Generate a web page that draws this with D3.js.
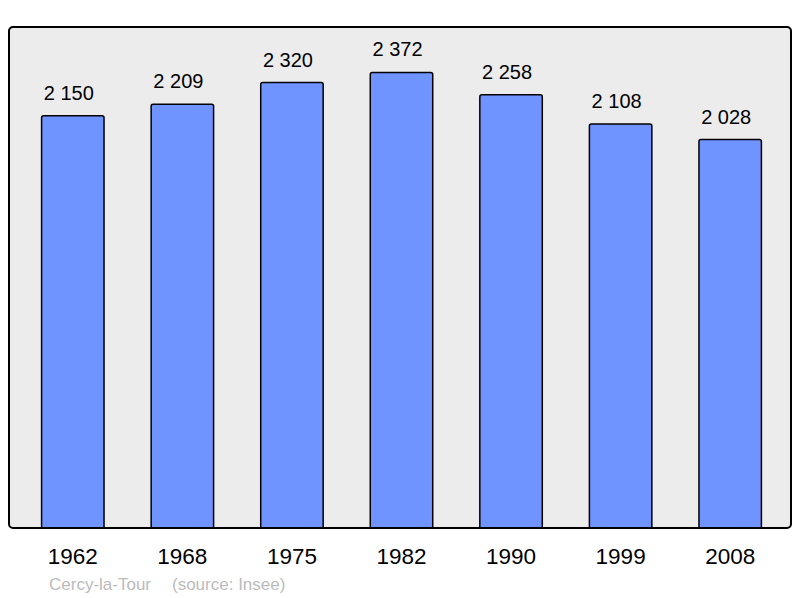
<!DOCTYPE html>
<html>
<head>
<meta charset="utf-8">
<script src="https://cdn.jsdelivr.net/npm/d3@7"></script>
<style>
  body { margin: 0; background: #fff; }
  text { font-family: "Liberation Sans", Arial, sans-serif; }
</style>
</head>
<body>
<svg id="svg" width="800" height="598"></svg>
<script>
// 年と人口
const years = ["1962", "1968", "1975", "1982", "1990", "1999", "2008"];
const population = [2150, 2209, 2320, 2372, 2258, 2108, 2028];
const valueLabels = ["2 150", "2 209", "2 320", "2 372", "2 258", "2 108", "2 028"];
const commune = "Cercy-la-Tour";
const source = "(source: Insee)";

const svg = d3.select("#svg");

// 枠の位置
const frame = { left: 9, top: 27, right: 791, bottom: 528 };

const x = d3.scaleBand()
  .domain(years)
  .range([12, 791])
  .paddingInner(0.43)
  .paddingOuter(0.27);

const y = d3.scaleLinear()
  .domain([0, 2600])
  .range([535, 28]);

// 背景の枠
svg.append("rect")
  .attr("x", frame.left)
  .attr("y", frame.top)
  .attr("width", frame.right - frame.left)
  .attr("height", frame.bottom - frame.top)
  .attr("rx", 4)
  .attr("fill", "#ececec")
  .attr("stroke", "none");

// 棒グラフ（枠の下端で切る）
svg.append("clipPath")
  .attr("id", "plotClip")
  .append("rect")
  .attr("x", frame.left)
  .attr("y", frame.top)
  .attr("width", frame.right - frame.left)
  .attr("height", frame.bottom - frame.top);

svg.append("g")
  .attr("clip-path", "url(#plotClip)")
  .selectAll("rect")
  .data(population)
  .join("rect")
  .attr("x", (d, i) => x(years[i]))
  .attr("y", d => y(d))
  .attr("width", x.bandwidth())
  .attr("height", d => y(0) - y(d) + 4)
  .attr("rx", 2)
  .attr("fill", "#7094ff")
  .attr("stroke", "#000")
  .attr("stroke-width", 1.5);

// 枠線
svg.append("rect")
  .attr("x", frame.left)
  .attr("y", frame.top)
  .attr("width", frame.right - frame.left)
  .attr("height", frame.bottom - frame.top)
  .attr("rx", 4)
  .attr("fill", "none")
  .attr("stroke", "#000")
  .attr("stroke-width", 2);

// 値ラベル（少し左寄せ）
svg.append("g")
  .selectAll("text")
  .data(population)
  .join("text")
  .attr("x", (d, i) => x(years[i]) + x.bandwidth() / 2 - 4)
  .attr("y", d => y(d) - 16)
  .attr("text-anchor", "middle")
  .attr("font-size", 20)
  .attr("fill", "#000")
  .text((d, i) => valueLabels[i]);

// 年のラベル
svg.append("g")
  .selectAll("text")
  .data(years)
  .join("text")
  .attr("x", d => x(d) + x.bandwidth() / 2)
  .attr("y", 564)
  .attr("text-anchor", "middle")
  .attr("font-size", 22.5)
  .attr("fill", "#000")
  .text(d => d);

// 出典
const note = svg.append("text")
  .attr("x", 49)
  .attr("y", 590)
  .attr("font-size", 17)
  .attr("fill", "#bbbbbb");
note.append("tspan").text(commune);
note.append("tspan").attr("x", 172).text(source);
</script>
</body>
</html>
